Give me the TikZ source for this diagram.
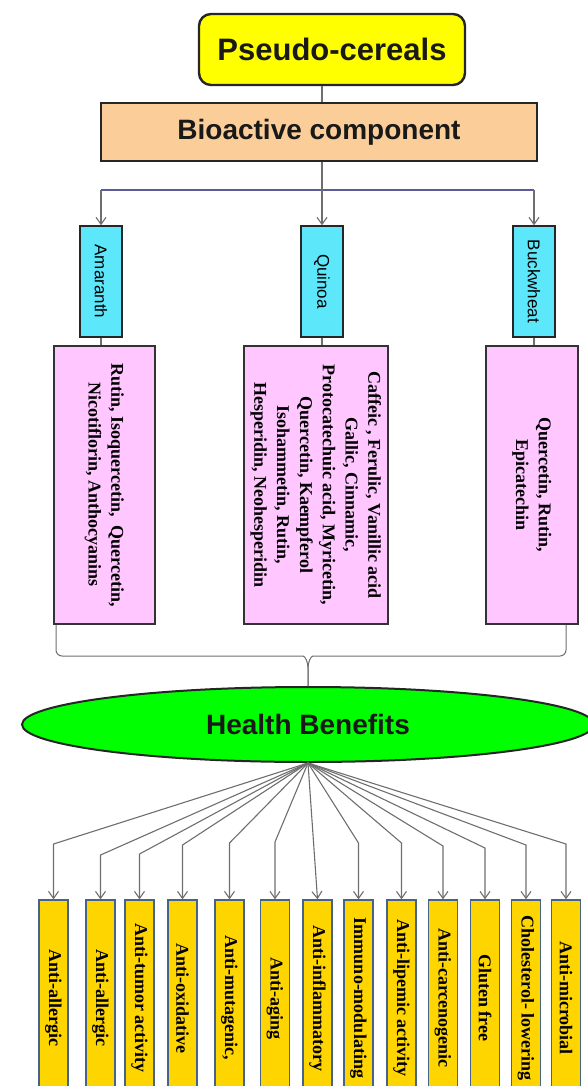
\documentclass[tikz,border=0pt]{standalone}
\usepackage{graphicx}
\usepackage{fontspec}
\setmainfont{Liberation Serif}
\newfontfamily\arialfont{Liberation Sans}
\usetikzlibrary{arrows.meta, shapes.geometric, positioning}

\definecolor{pcyellow}{HTML}{FFFF00}
\definecolor{biopeach}{HTML}{FBCD98}
\definecolor{grcyan}{HTML}{5CE7FB}
\definecolor{cmpink}{HTML}{FFC6FF}
\definecolor{hbgreen}{HTML}{00FF00}
\definecolor{bfgold}{HTML}{FFD500}
\definecolor{bfedge}{HTML}{44648C}
\definecolor{lngrey}{HTML}{6E6E6E}
\definecolor{lnblue}{HTML}{5B5B98}

\newcommand{\vtext}[1]{\rotatebox{-90}{\begin{tabular}{@{}c@{}}#1\end{tabular}}}

\tikzset{
  titlebox/.style={draw=black!85, line width=2pt, text=black!90, inner sep=0pt,
    font=\arialfont\bfseries\fontsize{28}{32}\selectfont},
  grainbox/.style={draw=black!85, line width=1.5pt, fill=grcyan, minimum width=42pt,
    minimum height=111pt, inner sep=0pt, font=\arialfont\fontsize{17}{20}\selectfont},
  compbox/.style={draw=black!80, line width=1.6pt, fill=cmpink, minimum height=278pt,
    inner sep=0pt, font=\bfseries\fontsize{18}{22.8}\selectfont},
  benefitbox/.style={draw=bfedge, line width=1.4pt, fill=bfgold, minimum width=29pt,
    minimum height=196pt, inner sep=0pt, font=\bfseries\fontsize{18}{22}\selectfont},
  conn/.style={draw=lngrey, line width=1.1pt},
  arr/.style={conn, -{Straight Barb[length=7pt,width=10pt]}},
}

\begin{document}
\begin{tikzpicture}[x=1pt, y=-1pt]
    \useasboundingbox (0,0) rectangle (588,1086);
    \clip (0,0) rectangle (588,1086);

    % top of the tree
    \node[titlebox, fill=pcyellow, rounded corners=12pt, line width=2.4pt, minimum width=266pt, minimum height=71pt,
      font=\arialfont\bfseries\fontsize{31}{36}\selectfont] (pc) at (332,49.5) {Pseudo-cereals};
    \node[titlebox, fill=biopeach, line width=1.8pt, minimum width=436pt, minimum height=58pt] (bio) at (319,132) {Bioactive component};

    \node[grainbox] (ama) at (101,281.5) {\rotatebox{-90}{Amaranth}};
    \node[grainbox] (qui) at (322,281.5) {\rotatebox{-90}{Quinoa}};
    \node[grainbox] (buck) at (534,281.5) {\rotatebox{-90}{Buckwheat}};

    \node[compbox, minimum width=101pt] (amac) at (104.5,485)
      {\vtext{Rutin, Isoquercetin,\ \ Quercetin,\\ Nicotiflorin, Anthocyanins}};
    \node[compbox, minimum width=144pt] (quic) at (316,485)
      {\vtext{Caffeic , Ferulic, Vanillic acid\\ Gallic, Cinnamic,\\ Protocatechuic acid, Myricetin,\\
        Quercetin, Kaempferol\\ Isohammetin, Rutin,\\ Hesperidin, Neohesperidin}};
    \node[compbox, minimum width=92pt] (buckc) at (532,485)
      {\vtext{Quercetin, Rutin,\\ Epicatechin}};

    \coordinate (split) at (322,190);

    \draw[conn] (pc.south -| qui) -- (bio.north -| qui);
    \draw[conn, draw=lnblue, line width=1.4pt] (split -| ama) -- (split -| buck);
    \draw[arr] (split -| ama) -- (ama.north);
    \draw[arr] (split -| buck) -- (buck.north);
    \draw[arr] (bio.south -| qui) -- (qui.north);

    \draw[conn] (ama.south) -- (ama.south |- amac.north);
    \draw[conn] (qui.south) -- (qui.south |- quic.north);
    \draw[conn] (buck.south) -- (buck.south |- buckc.north);

    % health benefits
    \node[titlebox, ellipse, fill=hbgreen, minimum width=572pt, minimum height=75pt] (hb) at (308,724.5) {Health Benefits};

    \draw[conn, line width=1pt, rounded corners=6pt] (amac.south -| 56,0) -- (56,656) -- (297,656)
      .. controls (305,656) and (308,662) .. (308,674) -- (hb.north);
    \draw[conn, line width=1pt, rounded corners=6pt] (buckc.south -| 566,0) -- (566,656) -- (319,656)
      .. controls (311,656) and (308,662) .. (308,674) -- (hb.north);

    \foreach \i/\x/\txt in {1/53.5/Anti-allergic, 2/100.5/Anti-allergic, 3/139.5/Anti-tumor activity,
      4/182.5/Anti-oxidative, 5/229.5/{Anti-mutagenic,}, 6/275/Anti-aging, 7/317.5/Anti-inflammatory,
      8/358.5/Immuno-modulating, 9/401.5/Anti-lipemic activity, 10/443/Anti-carcenogenic,
      11/485/Gluten free, 12/526/Cholesterol- lowering, 13/566/Anti-microbial}
      \node[benefitbox] (b\i) at (\x,998) {\rotatebox{-90}{\txt}};

    \foreach \i/\y in {1/844, 2/855, 3/854, 4/845, 5/843, 6/842, 8/843, 9/843, 10/846, 11/848, 12/845, 13/844}
      \draw[arr] (hb.south) -- (b\i.north |- 0,\y) -- (b\i.north);
    \draw[arr] (hb.south) -- (b7.north);
\end{tikzpicture}
\end{document}
